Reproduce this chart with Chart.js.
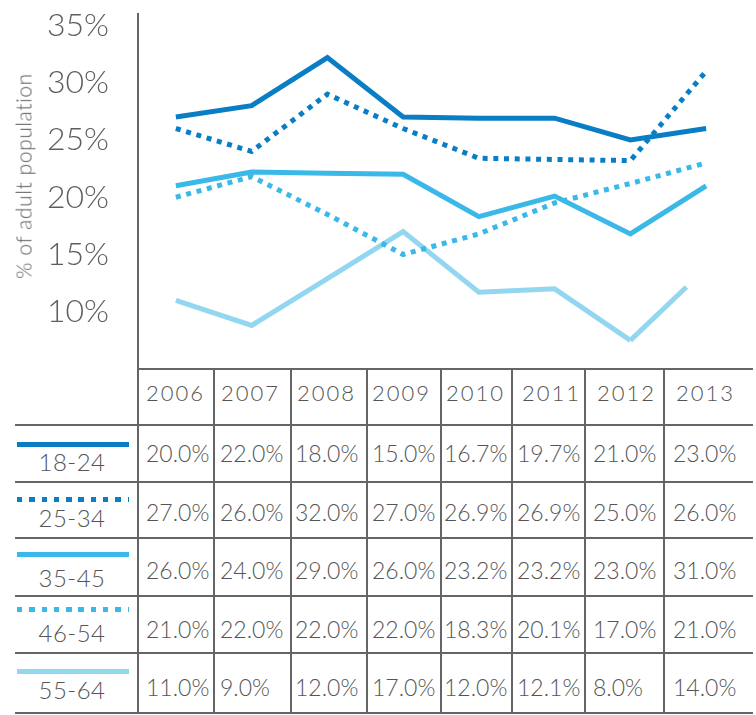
<!DOCTYPE html>
<html>
<head>
<meta charset="utf-8">
<script src="https://cdn.jsdelivr.net/npm/chart.js@4/dist/chart.umd.min.js"></script>
<style>
  html, body { margin: 0; padding: 0; background: #ffffff; }
  #wrap { position: relative; width: 756px; height: 715px; overflow: hidden;
          font-family: Lato, "Open Sans", sans-serif; font-weight: 300; color: #555555; }
  #chartBox { position: absolute; left: 0; top: 0; width: 756px; height: 372px; }
  .rule { position: absolute; background: #656565; }
  .txt { position: absolute; white-space: nowrap; line-height: 1; transform: translateY(-50%); }
  .key { position: absolute; height: 5px; }
  #ytitle { position: absolute; left: 23px; top: 176px; font-size: 21px; color: #5c5c5c;
            letter-spacing: 0.6px; white-space: nowrap; transform: translate(-50%, -50%) rotate(-90deg); }
</style>
</head>
<body>
<div id="wrap">
  <div id="chartBox"><canvas id="chart" width="756" height="372"></canvas></div>
  <div id="ytitle">% of adult population</div>
</div>
<script>
// Years along the category axis
const years = ['2006', '2007', '2008', '2009', '2010', '2011', '2012', '2013'];
// Age bands, in legend order
const ageGroups = ['18-24', '25-34', '35-45', '46-54', '55-64'];

// Share of adult population per age band (percent), one value per year
const share18to24 = [27, 28, 32.2, 27, 26.9, 26.9, 25, 26];
const share25to34 = [26, 24, 29, 26, 23.4, 23.3, 23.2, 31];
const share35to45 = [21, 22.2, 22.1, 22, 18.3, 20.1, 16.8, 21];
const share46to54 = [20, 21.8, 18.5, 15, 16.8, 19.5, 21.2, 23];
const share55to64 = [11, 8.8, 12.9, 17, 11.7, 12, 7.5, 13.8];

// Printed figures in the table under the chart, one row per legend entry
const tableRow1 = ['20.0%', '22.0%', '18.0%', '15.0%', '16.7%', '19.7%', '21.0%', '23.0%'];
const tableRow2 = ['27.0%', '26.0%', '32.0%', '27.0%', '26.9%', '26.9%', '25.0%', '26.0%'];
const tableRow3 = ['26.0%', '24.0%', '29.0%', '26.0%', '23.2%', '23.2%', '23.0%', '31.0%'];
const tableRow4 = ['21.0%', '22.0%', '22.0%', '22.0%', '18.3%', '20.1%', '17.0%', '21.0%'];
const tableRow5 = ['11.0%', '9.0%', '12.0%', '17.0%', '12.0%', '12.1%', '8.0%', '14.0%'];

// Y axis range and its ticks (percent); the bottom tick carries no label
const yMin = 5, yMax = 36;
const yTicks = [5, 10, 15, 20, 25, 30, 35];

const DARK = '#0a7ec4', MID = '#3ab8e8', LIGHT = '#92d7ef';
const DOTS = [5, 5.7];

const series = [
  { label: ageGroups[0], data: share18to24, color: DARK,  dash: [] },
  { label: ageGroups[1], data: share25to34, color: DARK,  dash: DOTS },
  { label: ageGroups[2], data: share35to45, color: MID,   dash: [] },
  { label: ageGroups[3], data: share46to54, color: MID,   dash: DOTS },
  { label: ageGroups[4], data: share55to64, color: LIGHT, dash: [] }
];

// the 55-64 line stops short of its last point
function shortLastSegment(c) {
  if (c.p1DataIndex !== years.length - 1) return undefined;
  const len = Math.hypot(c.p1.x - c.p0.x, c.p1.y - c.p0.y);
  return [len * 0.74, 1000];
}

new Chart(document.getElementById('chart'), {
  type: 'line',
  data: {
    labels: years,
    datasets: series.map((s, i) => ({
      label: s.label,
      data: s.data,
      borderColor: s.color,
      backgroundColor: s.color,
      borderWidth: 5,
      borderDash: s.dash,
      borderCapStyle: 'butt',
      borderJoinStyle: 'miter',
      pointRadius: 0,
      tension: 0,
      fill: false,
      order: i,
      segment: i === 4 ? { borderDash: shortLastSegment } : undefined
    }))
  },
  options: {
    responsive: false,
    animation: false,
    devicePixelRatio: 1,
    layout: { padding: { top: 14, right: 12, bottom: 3, left: 0 } },
    plugins: { legend: { display: false }, tooltip: { enabled: false } },
    scales: {
      x: { type: 'category', offset: true, display: false },
      y: {
        min: yMin, max: yMax,
        afterBuildTicks: s => { s.ticks = yTicks.map(v => ({ value: v })); },
        afterFit: s => { s.width = 138; s.paddingTop = 0; s.paddingBottom = 0; },
        grid: { display: false, drawTicks: false },
        border: { display: true, color: '#656565', width: 2 },
        ticks: {
          padding: 29,
          color: '#5e5e5e',
          font: { family: 'Lato', size: 32, weight: 300 },
          callback: v => (v === yMin ? '' : v + '%')
        }
      }
    }
  }
});

// ---- data table under the plot ----
const wrap = document.getElementById('wrap');
const colEdges = [138, 214, 291, 367, 441, 512, 585, 664];
const tableRight = 753, tableLeft = 15;
const rowEdges = [369, 425, 482, 538, 596, 653, 713];

function rule(x, y, w, h) {
  const d = document.createElement('div');
  d.className = 'rule';
  Object.assign(d.style, { left: x + 'px', top: y + 'px', width: w + 'px', height: h + 'px' });
  wrap.appendChild(d);
}
function text(str, x, yc, size, extra) {
  const d = document.createElement('div');
  d.className = 'txt';
  d.textContent = str;
  Object.assign(d.style, { left: x + 'px', top: yc + 'px', fontSize: size + 'px' }, extra || {});
  wrap.appendChild(d);
  return d;
}

rowEdges.forEach((y, i) => {
  const x0 = i === 0 ? colEdges[0] - 1 : tableLeft;
  rule(x0, y - 1, tableRight - x0, 2);
});
colEdges.forEach(x => rule(x - 1, rowEdges[0], 2, rowEdges[rowEdges.length - 1] - rowEdges[0] + 1));

const yearPad = [8, 7, 6, 5, 5, 10, 12, 12];
years.forEach((yr, j) => text(yr, colEdges[j] + yearPad[j], 393, 22, { letterSpacing: '2px' }));

const tableRows = [tableRow1, tableRow2, tableRow3, tableRow4, tableRow5];
const valuePad = [8, 6, 4, 5, 3, 5, 8, 9];
const valueMid = [453, 511.5, 570, 628.5, 687];
tableRows.forEach((row, r) => {
  row.forEach((v, j) => text(v, colEdges[j] + valuePad[j], valueMid[r], 23));
});

// legend column: line sample above each age band
const keyMid = [444, 499, 554.5, 609.5, 671];
const labelMid = [462, 518, 578, 633, 690];
series.forEach((s, r) => {
  const k = document.createElement('div');
  k.className = 'key';
  k.style.left = '17px';
  k.style.width = '112px';
  k.style.top = (keyMid[r] - 2.5) + 'px';
  k.style.background = s.dash.length
    ? `repeating-linear-gradient(to right, ${s.color} 0 5.3px, transparent 5.3px 12.3px)`
    : s.color;
  wrap.appendChild(k);
  const t = text(s.label, 72, labelMid[r], 24, { letterSpacing: '0.5px' });
  t.style.transform = 'translate(-50%, -50%)';
});
</script>
</body>
</html>
